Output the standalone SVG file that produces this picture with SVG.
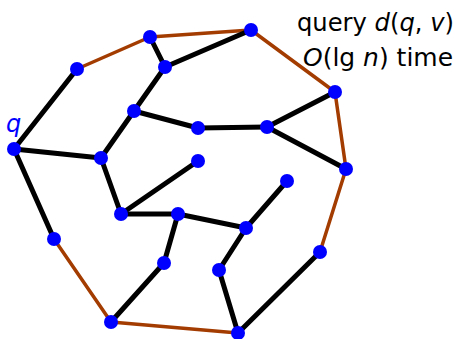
<svg xmlns="http://www.w3.org/2000/svg" width="461" height="339" viewBox="0 0 461 339">
<style>
.e{stroke:#000;stroke-width:5;stroke-linecap:round;fill:none}
.b{stroke:#a33c00;stroke-width:3.5;stroke-linecap:round;fill:none}
.n{fill:#0000ff}
.t{font-family:"DejaVu Sans","Liberation Sans",sans-serif;font-size:24px;fill:#000}
.m{font-style:italic}
</style>
<rect width="461" height="339" fill="#fff"/>
<g id="connectors">
<g id="outer">
<line class="b" x1="77" y1="69" x2="150" y2="37"/>
<line class="b" x1="150" y1="37" x2="251" y2="30"/>
<line class="b" x1="251" y1="30" x2="335" y2="92"/>
<line class="b" x1="335" y1="92" x2="346" y2="169"/>
<line class="b" x1="346" y1="169" x2="320" y2="252"/>
<line class="b" x1="238" y1="333" x2="111" y2="322"/>
<line class="b" x1="111" y1="322" x2="54" y2="239"/>
</g>
<g id="tree">
<line class="e" x1="14" y1="149" x2="77" y2="69"/>
<line class="e" x1="14" y1="149" x2="54" y2="239"/>
<line class="e" x1="14" y1="149" x2="101" y2="158"/>
<line class="e" x1="320" y1="252" x2="238" y2="333"/>
<line class="e" x1="150" y1="37" x2="165" y2="67"/>
<line class="e" x1="165" y1="67" x2="251" y2="30"/>
<line class="e" x1="165" y1="67" x2="134" y2="111"/>
<line class="e" x1="134" y1="111" x2="101" y2="158"/>
<line class="e" x1="134" y1="111" x2="198" y2="128"/>
<line class="e" x1="198" y1="128" x2="267" y2="127"/>
<line class="e" x1="267" y1="127" x2="335" y2="92"/>
<line class="e" x1="267" y1="127" x2="346" y2="169"/>
<line class="e" x1="101" y1="158" x2="121" y2="214"/>
<line class="e" x1="121" y1="214" x2="198" y2="161"/>
<line class="e" x1="121" y1="214" x2="178" y2="214"/>
<line class="e" x1="178" y1="214" x2="246" y2="228"/>
<line class="e" x1="178" y1="214" x2="164" y2="263"/>
<line class="e" x1="164" y1="263" x2="111" y2="322"/>
<line class="e" x1="246" y1="228" x2="287" y2="181"/>
<line class="e" x1="246" y1="228" x2="219" y2="270"/>
<line class="e" x1="219" y1="270" x2="238" y2="333"/>
</g>
</g>
<g id="q"><circle class="n" cx="14" cy="149" r="7"/><text x="6" y="132" class="t m" style="fill:#0000ff">q</text></g>
<g id="n1"><circle class="n" cx="150" cy="37" r="7"/></g>
<g id="n2"><circle class="n" cx="251" cy="30" r="7"/></g>
<g id="n3"><circle class="n" cx="165" cy="67" r="7"/></g>
<g id="n4"><circle class="n" cx="77" cy="69" r="7"/></g>
<g id="n5"><circle class="n" cx="335" cy="92" r="7"/></g>
<g id="n6"><circle class="n" cx="134" cy="111" r="7"/></g>
<g id="n7"><circle class="n" cx="198" cy="128" r="7"/></g>
<g id="n8"><circle class="n" cx="267" cy="127" r="7"/></g>
<g id="n9"><circle class="n" cx="101" cy="158" r="7"/></g>
<g id="n10"><circle class="n" cx="198" cy="161" r="7"/></g>
<g id="n11"><circle class="n" cx="346" cy="169" r="7"/></g>
<g id="n12"><circle class="n" cx="287" cy="181" r="7"/></g>
<g id="n13"><circle class="n" cx="121" cy="214" r="7"/></g>
<g id="n14"><circle class="n" cx="178" cy="214" r="7"/></g>
<g id="n15"><circle class="n" cx="246" cy="228" r="7"/></g>
<g id="n16"><circle class="n" cx="54" cy="239" r="7"/></g>
<g id="n17"><circle class="n" cx="320" cy="252" r="7"/></g>
<g id="n18"><circle class="n" cx="164" cy="263" r="7"/></g>
<g id="n19"><circle class="n" cx="219" cy="270" r="7"/></g>
<g id="n20"><circle class="n" cx="111" cy="322" r="7"/></g>
<g id="n21"><circle class="n" cx="238" cy="333" r="7"/></g>
<g id="label">
<text class="t" x="297" y="31" textLength="157" lengthAdjust="spacingAndGlyphs">query <tspan class="m">d</tspan>(<tspan class="m">q</tspan>, <tspan class="m">v</tspan>)</text>
<text class="t" x="303" y="66" textLength="150" lengthAdjust="spacingAndGlyphs"><tspan class="m">O</tspan>(lg <tspan class="m">n</tspan>) time</text>
</g>
</svg>
